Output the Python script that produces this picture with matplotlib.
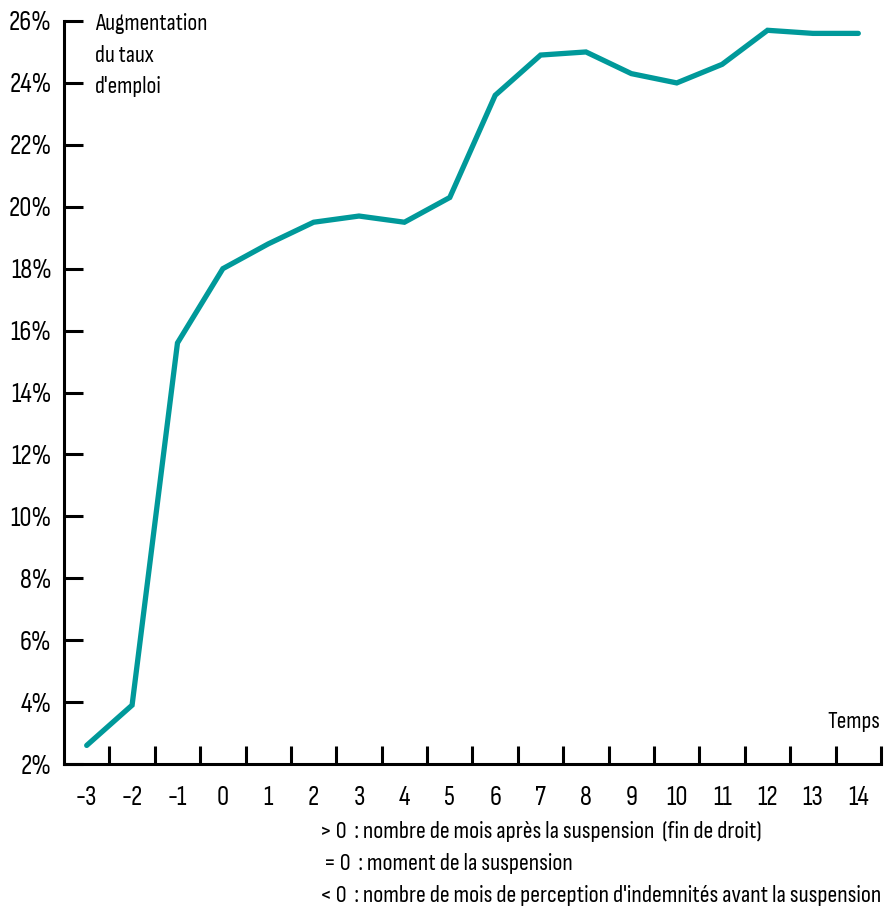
import matplotlib.pyplot as plt
from matplotlib.ticker import FixedLocator

plt.rcParams['font.family'] = ['Sofia Sans Condensed', 'DejaVu Sans']

# data
mois = [-3, -2, -1, 0, 1, 2, 3, 4, 5, 6, 7, 8, 9, 10, 11, 12, 13, 14]
taux = [2.6, 3.9, 15.6, 18.0, 18.8, 19.5, 19.7, 19.5, 20.3, 23.6,
        24.9, 25.0, 24.3, 24.0, 24.6, 25.7, 25.6, 25.6]
y_ticks = [2, 4, 6, 8, 10, 12, 14, 16, 18, 20, 22, 24, 26]
notes = ["> 0  : nombre de mois après la suspension  (fin de droit)",
         " = 0  : moment de la suspension",
         "< 0  : nombre de mois de perception d'indemnités avant la suspension"]

teal = "#00999a"

fig = plt.figure(figsize=(8.91, 9.11), dpi=100)
ax = fig.add_axes([64/891, (911-764)/911, (881-64)/891, (764-21)/911])

ax.plot(mois, taux, color=teal, lw=3.8, solid_joinstyle='miter', solid_capstyle='round')

ax.set_xlim(mois[0] - 0.5, mois[-1] + 0.5)
ax.set_ylim(2, 26)

for s in ['top', 'right']:
    ax.spines[s].set_visible(False)
for s in ['left', 'bottom']:
    ax.spines[s].set_linewidth(2.2)

ax.set_yticks(y_ticks)
ax.set_yticklabels([f"{v}%" for v in y_ticks])
ax.tick_params(axis='y', direction='in', length=14, width=2.2, pad=9,
               labelsize=19.5, color='black')

ax.set_xticks(mois)
ax.set_xticklabels([str(m) for m in mois])
ax.tick_params(axis='x', which='major', length=0, pad=16, labelsize=19.5)
ax.xaxis.set_minor_locator(FixedLocator([m + 0.5 for m in mois]))
ax.tick_params(axis='x', which='minor', direction='in', length=13, width=2.2)

fig.text(95/891, 1 - 13/911, "Augmentation\ndu taux\nd'emploi",
         fontsize=17, va='top', ha='left', linespacing=1.62)
fig.text(880/891, 1 - 721/911, "Temps", fontsize=17, va='center', ha='right')

for i, n in enumerate(notes):
    fig.text(320/891, 1 - (832 + i*31.5)/911, n, fontsize=17.5, va='center', ha='left')

fig.savefig("out.png", dpi=100)
